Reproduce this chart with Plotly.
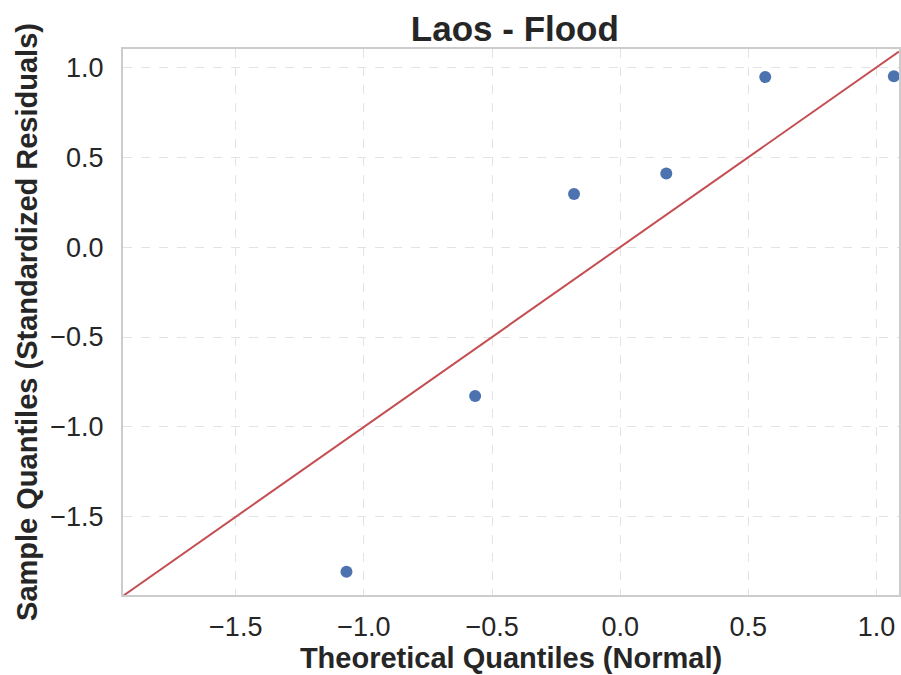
import plotly.graph_objects as go

theoretical = [-1.068, -0.566, -0.180, 0.180, 0.566, 1.068]
sample = [-1.806, -0.828, 0.295, 0.409, 0.946, 0.950]
x_range = [-1.94, 1.088]
y_range = [-1.935, 1.102]
tick_vals = [-1.5, -1.0, -0.5, 0.0, 0.5, 1.0]

FONT = "Liberation Sans, Arial, sans-serif"
TXT = "#262626"

fig = go.Figure()
fig.add_trace(go.Scatter(
    x=theoretical, y=sample, mode="markers",
    marker=dict(color="#4c72b0", size=12, line=dict(width=0)),
    showlegend=False, cliponaxis=False,
))
fig.add_trace(go.Scatter(
    x=x_range, y=x_range, mode="lines",
    line=dict(color="#c44e52", width=2),
    showlegend=False,
))

axis_common = dict(
    showgrid=True, gridcolor="#e3e3e3", griddash="dash", gridwidth=1,
    zeroline=False, showline=True, linecolor="#cccccc", linewidth=2, mirror=True,
    ticks="outside", tickcolor="rgba(0,0,0,0)",
    tickfont=dict(family=FONT, size=27, color=TXT),
    tickvals=tick_vals, tickformat=".1f",
)

fig.update_layout(
    width=901, height=675,
    margin=dict(l=123, r=0, t=49, b=80),
    paper_bgcolor="white", plot_bgcolor="white",
    title=dict(text="<b>Laos - Flood</b>", x=0.505, xref="paper", xanchor="center",
               y=0.958, yref="container", yanchor="middle",
               font=dict(family=FONT, size=35, color=TXT)),
    xaxis=dict(range=x_range, ticklen=7,
               title=dict(text="<b>Theoretical Quantiles (Normal)</b>",
                          font=dict(family=FONT, size=29, color=TXT), standoff=2),
               **axis_common),
    yaxis=dict(range=y_range, ticklen=12,
               title=dict(text="<b>Sample Quantiles (Standardized Residuals)</b>",
                          font=dict(family=FONT, size=29, color=TXT), standoff=4),
               **axis_common),
)

fig.write_html("out.html")
